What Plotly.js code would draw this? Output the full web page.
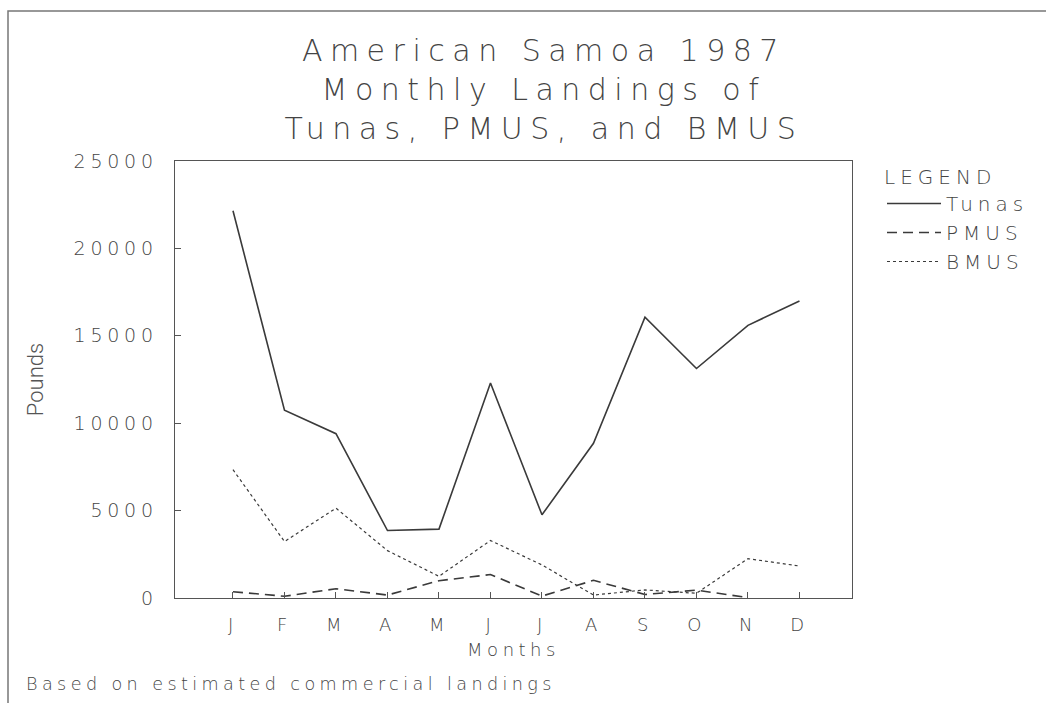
<!DOCTYPE html>
<html>
<head>
<meta charset="utf-8">
<script src="https://cdn.plot.ly/plotly-3.0.1.min.js"></script>
<style>
  html, body { margin: 0; padding: 0; background: #ffffff; }
  text { letter-spacing: 0.25em; }
  text.ytitle { letter-spacing: 0; }
</style>
</head>
<body>
<div id="chart" style="width:1046px;height:703px;"></div>
<script>
// ---- data ----
const months = ["J", "F", "M", "A", "M", "J", "J", "A", "S", "O", "N", "D"];
const monthIndex = [1, 2, 3, 4, 5, 6, 7, 8, 9, 10, 11, 12];
const tunas = [22150, 10740, 9400, 3860, 3940, 12300, 4760, 8850, 16070, 13130, 15600, 16990];
const pmus  = [360, 100, 530, 170, 990, 1340, 110, 1010, 200, 450, 20, null];
const bmus  = [7340, 3230, 5140, 2710, 1240, 3290, 1890, 170, 460, 270, 2250, 1830];
const yTicks = [0, 5000, 10000, 15000, 20000, 25000];

const FONT = "DejaVu Sans, sans-serif";
const W = 200;
const INK = "#3a3a3a";
const TXT = "#444444";

const traces = [
  { name: "Tunas", x: monthIndex, y: tunas, type: "scatter", mode: "lines",
    line: { color: INK, width: 1.6, dash: "solid" } },
  { name: "PMUS", x: monthIndex, y: pmus, type: "scatter", mode: "lines",
    line: { color: INK, width: 1.6, dash: "10px,6px" } },
  { name: "BMUS", x: monthIndex, y: bmus, type: "scatter", mode: "lines",
    line: { color: INK, width: 1.2, dash: "dot" } }
];

const L = 175, R = 852, T = 161, B = 598;
const pw = R - L, ph = B - T;
const px = v => (v - L) / pw;
const py = v => (B - v) / ph;

const layout = {
  width: 1046, height: 703,
  margin: { l: L, r: 1046 - R, t: T, b: 703 - B, pad: 0 },
  paper_bgcolor: "#ffffff", plot_bgcolor: "#ffffff",
  font: { family: FONT, color: TXT, size: 18, weight: W },
  title: {
    text: "American Samoa 1987<br>Monthly Landings of<br>Tunas, PMUS, and BMUS",
    x: 0.52, xanchor: "center", xref: "container",
    y: 1 - 61 / 703, yanchor: "top", yref: "container",
    font: { family: FONT, size: 30, color: TXT, weight: W }
  },
  xaxis: {
    range: [-0.126, 13.02],
    tickvals: monthIndex, ticktext: months,
    ticks: "inside", ticklen: 6, tickwidth: 1, tickcolor: "#555",
    ticklabelstandoff: 10,
    showline: true, mirror: true, linecolor: "#555", linewidth: 1.4,
    showgrid: false, zeroline: false,
    tickfont: { family: FONT, size: 18, color: TXT, weight: W },
    title: { text: "Months", font: { family: FONT, size: 18, color: TXT, weight: W }, standoff: 9 }
  },
  yaxis: {
    range: [0, 25000],
    tickvals: yTicks, ticktext: yTicks.map(String),
    ticks: "inside", ticklen: 6, tickwidth: 1, tickcolor: "#555",
    ticklabelstandoff: 12,
    showline: true, mirror: true, linecolor: "#555", linewidth: 1.4,
    showgrid: false, zeroline: false,
    tickfont: { family: FONT, size: 19, color: TXT, weight: W },
    title: { text: "Pounds", font: { family: "Roboto, sans-serif", size: 22, color: "#555", weight: 300 }, standoff: 24 }
  },
  showlegend: true,
  legend: {
    x: px(882), xanchor: "left", y: py(158), yanchor: "top",
    bgcolor: "rgba(0,0,0,0)",
    itemwidth: 54,
    title: { text: "LEGEND", font: { family: FONT, size: 20, color: TXT, weight: W } },
    font: { family: FONT, size: 20, color: TXT, weight: W },
    tracegroupgap: 0
  },
  annotations: [
    { text: "Based on estimated commercial landings", xref: "paper", yref: "paper",
      x: px(24), y: py(684), xanchor: "left", yanchor: "middle", showarrow: false,
      font: { family: FONT, size: 17.6, color: TXT, weight: W } }
  ],
  shapes: [
    { type: "rect", xref: "paper", yref: "paper",
      x0: px(8), x1: px(1300), y0: py(900), y1: py(11),
      line: { color: "#777", width: 1.5 }, fillcolor: "rgba(0,0,0,0)" }
  ]
};

Plotly.newPlot("chart", traces, layout, { displayModeBar: false, staticPlot: true });
</script>
</body>
</html>
